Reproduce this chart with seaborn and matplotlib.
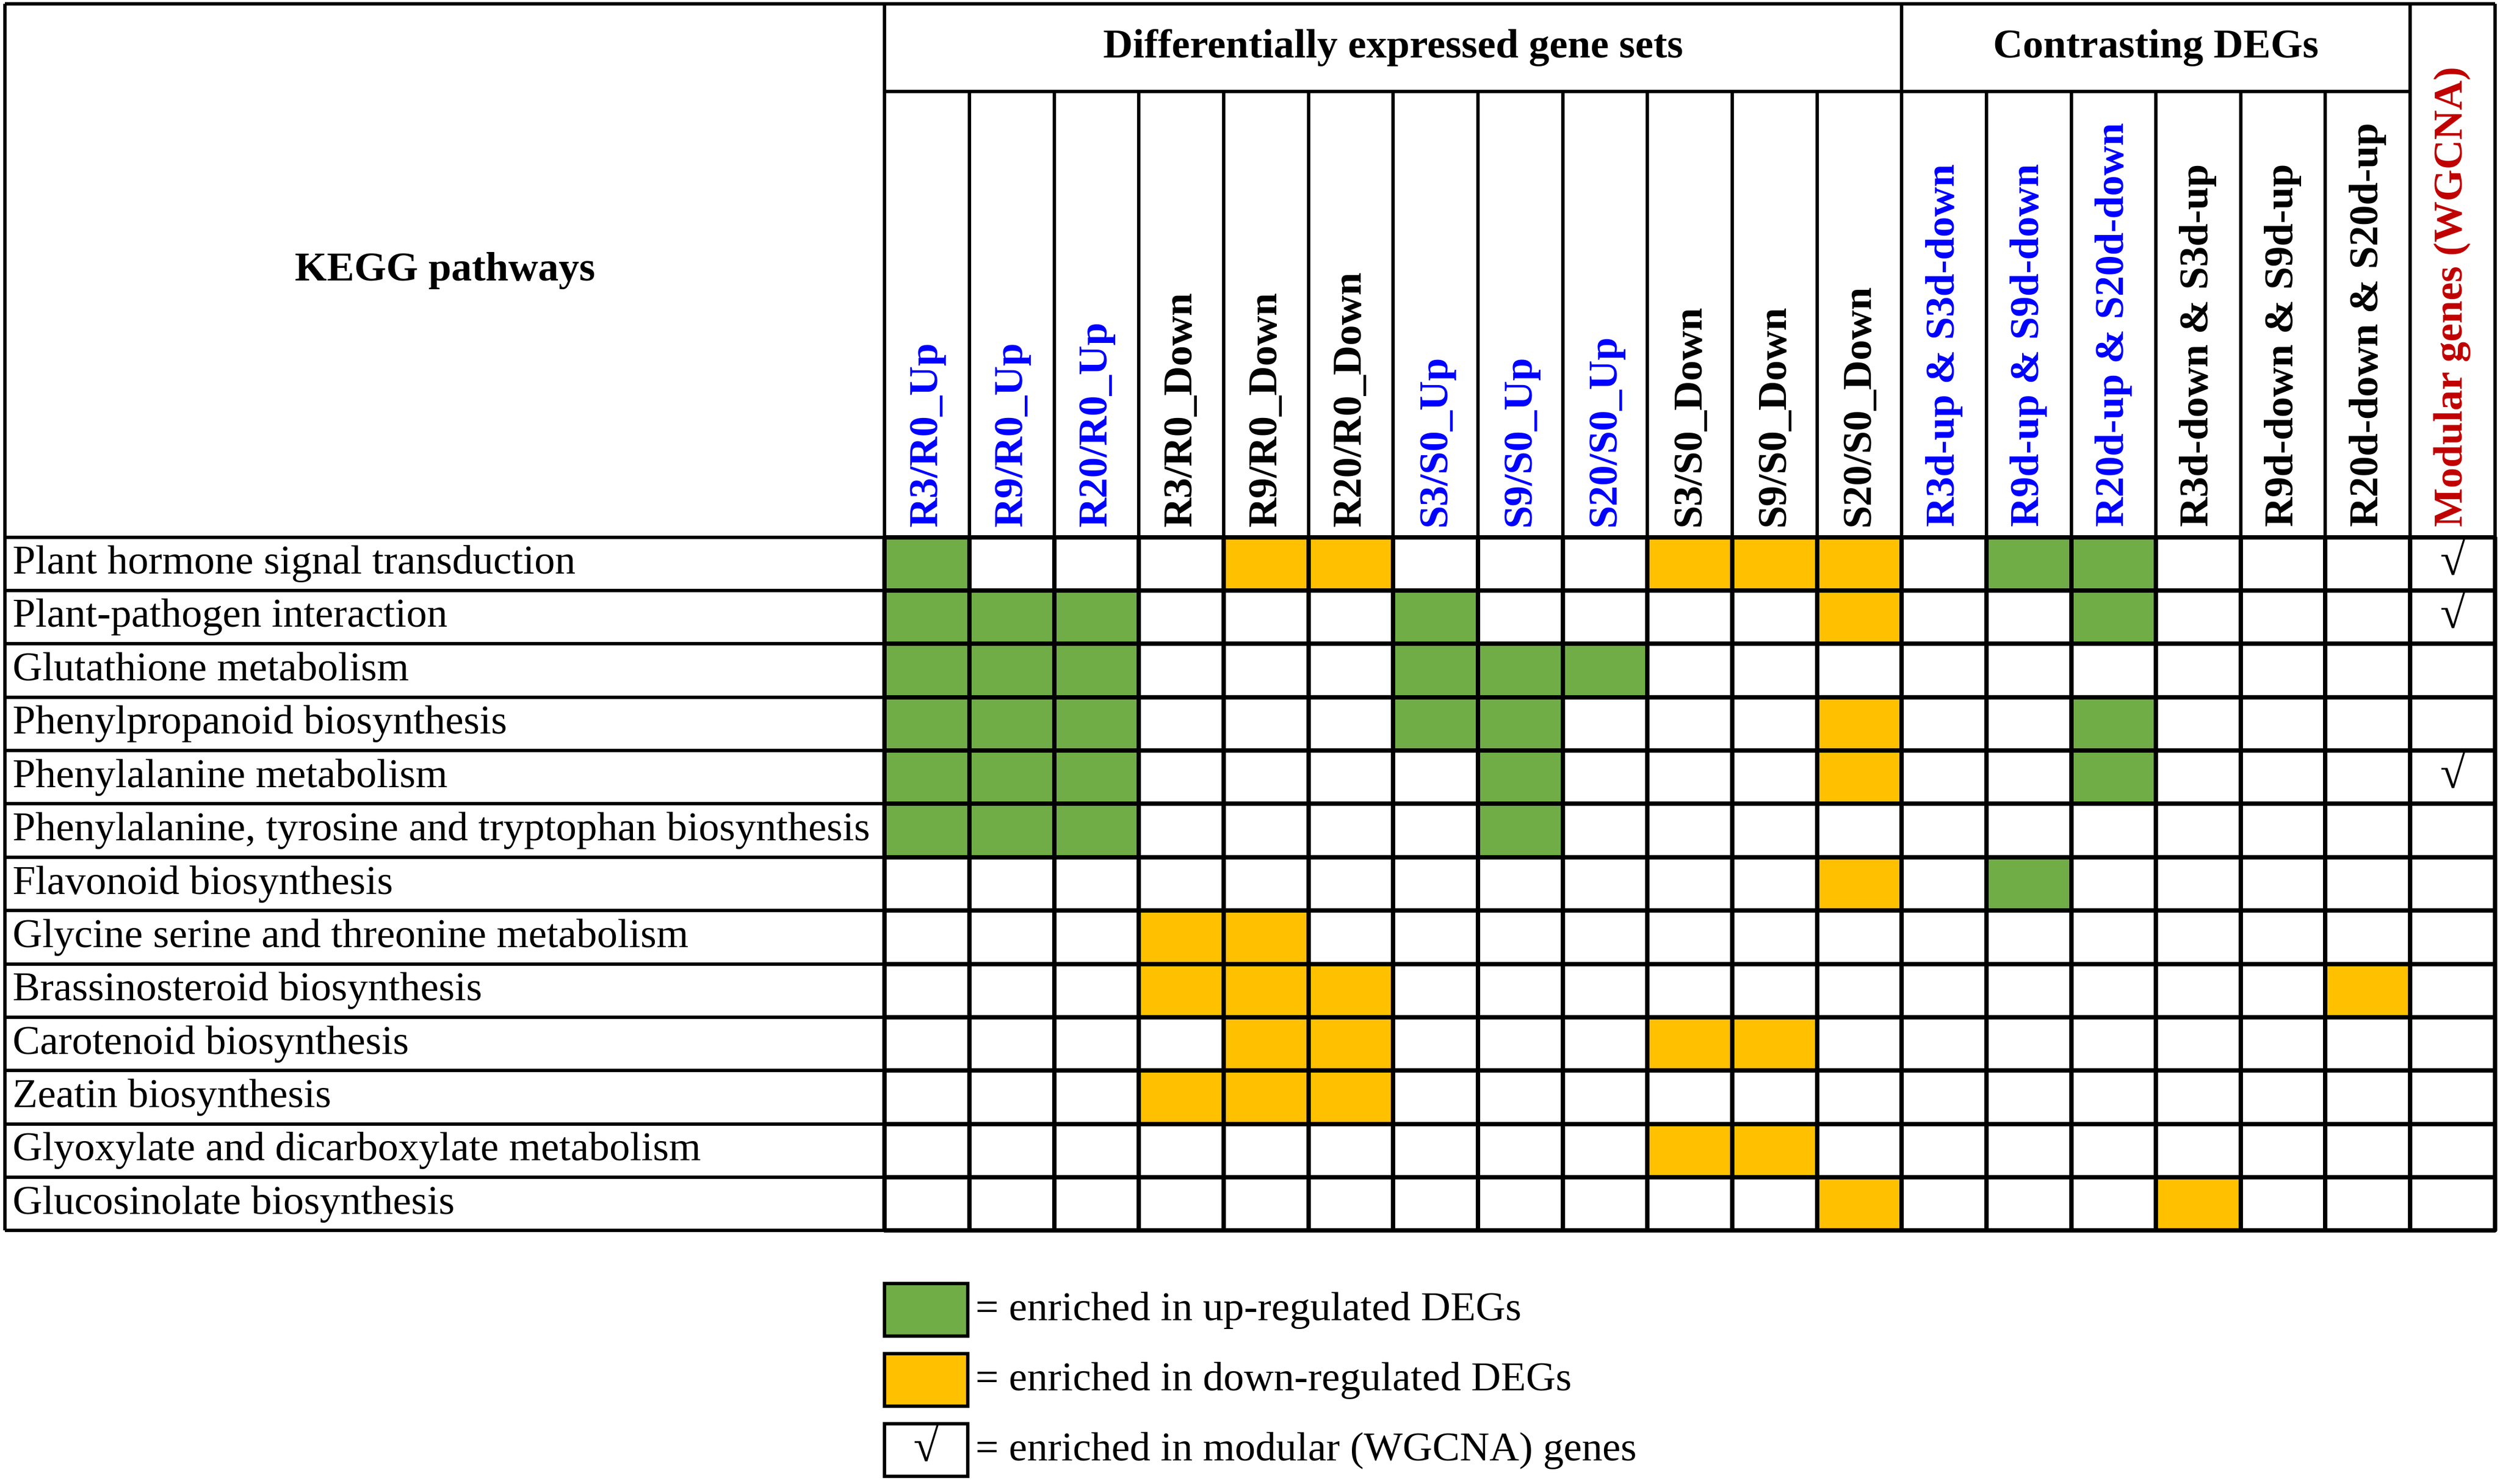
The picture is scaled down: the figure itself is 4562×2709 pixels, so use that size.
import numpy as np
import pandas as pd
import matplotlib
matplotlib.use("Agg")
import matplotlib.pyplot as plt
from matplotlib.colors import ListedColormap
from matplotlib.patches import Rectangle
import seaborn as sns

# KEGG pathway enrichment table: U = up-regulated, D = down-regulated, . = none
pathways = [
    "Plant hormone signal transduction",
    "Plant-pathogen interaction",
    "Glutathione metabolism",
    "Phenylpropanoid biosynthesis",
    "Phenylalanine metabolism",
    "Phenylalanine, tyrosine and tryptophan biosynthesis",
    "Flavonoid biosynthesis",
    "Glycine serine and threonine metabolism",
    "Brassinosteroid biosynthesis",
    "Carotenoid biosynthesis",
    "Zeatin biosynthesis",
    "Glyoxylate and dicarboxylate metabolism",
    "Glucosinolate biosynthesis",
]

deg_sets = ["R3/R0_Up", "R9/R0_Up", "R20/R0_Up", "R3/R0_Down", "R9/R0_Down", "R20/R0_Down",
            "S3/S0_Up", "S9/S0_Up", "S20/S0_Up", "S3/S0_Down", "S9/S0_Down", "S20/S0_Down"]
contrast_sets = ["R3d-up & S3d-down", "R9d-up & S9d-down", "R20d-up & S20d-down",
                 "R3d-down & S3d-up", "R9d-down & S9d-up", "R20d-down & S20d-up"]
modular_label = "Modular genes (WGCNA)"

enrichment = [
    "U...DD...DDD.UU...",
    "UUU...U....D..U...",
    "UUU...UUU.........",
    "UUU...UU...D..U...",
    "UUU....U...D..U...",
    "UUU....U..........",
    "...........D.U....",
    "...DD.............",
    "...DDD...........D",
    "....DD...DD.......",
    "...DDD............",
    ".........DD.......",
    "...........D...D..",
]
wgcna = [1, 1, 0, 0, 1, 0, 0, 0, 0, 0, 0, 0, 0]

label_colors = (["#0000FF"] * 3 + ["black"] * 3 + ["#0000FF"] * 3 + ["black"] * 3
                + ["#0000FF"] * 3 + ["black"] * 3 + ["#C00000"])

green = "#70AD47"
orange = "#FFC000"

# ---------------------------------------------------------------
columns = deg_sets + contrast_sets + [modular_label]
code = {".": 0, "U": 1, "D": 2}
mat = [[code[c] for c in row] + [0] for row in enrichment]
df = pd.DataFrame(mat, index=pathways, columns=columns)
annot = np.full(df.shape, "", dtype=object)
for i, w in enumerate(wgcna):
    if w:
        annot[i, -1] = "√"

sns.set_style("white")
plt.rcParams["font.family"] = ["Liberation Serif", "DejaVu Serif"]
plt.rcParams["text.color"] = "black"

fig = plt.figure(figsize=(4562 / 300, 2709 / 300), dpi=300)
ax = fig.add_axes([0, 0, 1, 1])

sns.heatmap(df, ax=ax, cmap=ListedColormap(["white", green, orange]), vmin=0, vmax=2,
            cbar=False, linewidths=1.5, linecolor="black",
            annot=annot, fmt="", annot_kws={"fontsize": 20, "color": "black"})

# table units: one column wide = 1, one row high = 1
ncol, nrow = df.shape[1], df.shape[0]
left_w = 10.38      # width of the pathway column
head_h = 10.0       # height of the header block
group_h = 1.64      # height of the group header strip
ax.set_xlim(-10.44, 19.06)
ax.set_ylim(17.75, -10.07)
ax.axis("off")

lw = 1.5
# outer frame and left column
ax.hlines(-head_h, -left_w, ncol, color="black", lw=lw)
ax.hlines(np.arange(nrow + 1), -left_w, 0, color="black", lw=lw)
ax.vlines([-left_w, 0], -head_h, nrow, color="black", lw=lw)
ax.vlines(ncol, -head_h, 0, color="black", lw=lw)
# header grid
ax.hlines(-head_h + group_h, 0, ncol - 1, color="black", lw=lw)
ax.vlines(np.arange(1, ncol), -head_h + group_h, 0, color="black", lw=lw)
ax.vlines([len(deg_sets), ncol - 1], -head_h, -head_h + group_h, color="black", lw=lw)

# header text
ax.text(-left_w / 2, -5.0, "KEGG pathways", ha="center", va="center",
        fontsize=18, fontweight="bold", color="black")
ax.text(len(deg_sets) / 2, -head_h + group_h / 2, "Differentially expressed gene sets",
        ha="center", va="center", fontsize=18, fontweight="bold", color="black")
ax.text(len(deg_sets) + len(contrast_sets) / 2, -head_h + group_h / 2, "Contrasting DEGs",
        ha="center", va="center", fontsize=18, fontweight="bold", color="black")
for j, (lab, col) in enumerate(zip(columns, label_colors)):
    ax.text(j + 0.5, -0.2, lab, rotation=90, ha="center", va="bottom",
            fontsize=18, fontweight="bold", color=col)

# pathway names
for i, name in enumerate(pathways):
    ax.text(-left_w + 0.09, i + 0.5, name, ha="left", va="center", fontsize=18,
            color="black")

# legend
legend_items = [(green, "", "= enriched in up-regulated DEGs"),
                (orange, "", "= enriched in down-regulated DEGs"),
                ("white", "√", "= enriched in modular (WGCNA) genes")]
for k, (fc, sym, txt) in enumerate(legend_items):
    y0 = 13.99 + k * 1.315
    ax.add_patch(Rectangle((0, y0), 0.98, 0.99, facecolor=fc, edgecolor="black", lw=lw))
    if sym:
        ax.text(0.49, y0 + 0.5, sym, ha="center", va="center", fontsize=20, color="black")
    ax.text(1.07, y0 + 0.5, txt, ha="left", va="center", fontsize=18, color="black")

fig.savefig("out.png", dpi=300, facecolor="white")
